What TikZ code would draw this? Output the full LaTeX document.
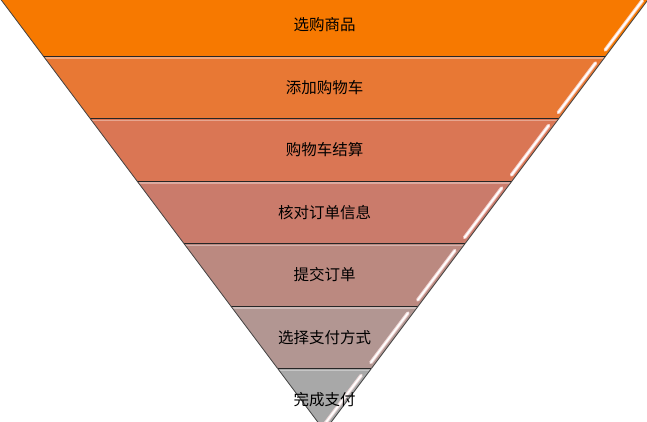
\documentclass[tikz,border=0pt]{standalone}
\usepackage{fontspec}
\newfontfamily\cjk{Noto Sans CJK SC}
\definecolor{c0}{RGB}{247,121,0}
\definecolor{c1}{RGB}{232,120,52}
\definecolor{c2}{RGB}{218,118,84}
\definecolor{c3}{RGB}{202,123,107}
\definecolor{c4}{RGB}{187,137,128}
\definecolor{c5}{RGB}{178,150,146}
\definecolor{c6}{RGB}{168,168,168}
\tikzset{
  edgeline/.style={draw=black!75,line width=0.8pt},
  sepline/.style={draw=black!85,line width=0.9pt},
  glintglow/.style={draw=white!60!pink,line width=3.6pt,line cap=round,opacity=0.8},
  glint/.style={draw=white,line width=1.6pt,line cap=round},
  lbl/.style={font=\cjk\fontsize{15.5}{18}\selectfont,text=black,inner sep=0pt}
}
\begin{document}
\begin{tikzpicture}[x=1pt,y=-1pt]
\useasboundingbox (0,0) rectangle (647,422);
\clip (0,0) rectangle (647,422);
\foreach \i/\lab in {0/选购商品,1/添加购物车,2/购物车结算,3/核对订单信息,4/提交订单,5/选择支付方式,6/完成支付}{
  \pgfmathsetmacro\bandtop{-6.5+62.5*\i}
  \pgfmathsetmacro\bandbot{\bandtop+62.5}
  \pgfmathsetmacro\hwtop{0.75*(431-\bandtop)}
  \pgfmathsetmacro\hwbot{0.75*(431-\bandbot)}
  \pgfmathsetmacro\hwsh{0.75*(431-\bandtop-2)}
  \pgfmathsetmacro\gla{0.75*(431-\bandtop-7)-5}
  \pgfmathsetmacro\glb{0.75*(431-\bandbot+6)-5}
  \coordinate (tl\i) at ({324.5-\hwtop},\bandtop);
  \coordinate (tr\i) at ({324.5+\hwtop},\bandtop);
  \coordinate (br\i) at ({324.5+\hwbot},\bandbot);
  \coordinate (bl\i) at ({324.5-\hwbot},\bandbot);
  \fill[c\i] (tl\i) -- (tr\i) -- (br\i) -- (bl\i) -- cycle;
  \coordinate (sl\i) at ({324.5-\hwsh},{\bandtop+2});
  \coordinate (sr\i) at ({324.5+\hwsh},{\bandtop+2});
  \draw[c\i!65!white,line width=1.6pt] (sl\i) -- (sr\i);
  \coordinate (ga\i) at ({324.5+\gla},{\bandtop+7});
  \coordinate (gb\i) at ({324.5+\glb},{\bandbot-6});
  \draw[glintglow] (ga\i) -- (gb\i);
  \draw[glint] (ga\i) -- (gb\i);
  \draw[sepline] (tl\i) -- (tr\i);
  \draw[edgeline] (tl\i) -- (bl\i);
  \draw[edgeline] (tr\i) -- (br\i);
  \node[lbl] (n\i) at (324.5,{\bandtop+31.5}) {\lab};
}
\end{tikzpicture}
\end{document}
